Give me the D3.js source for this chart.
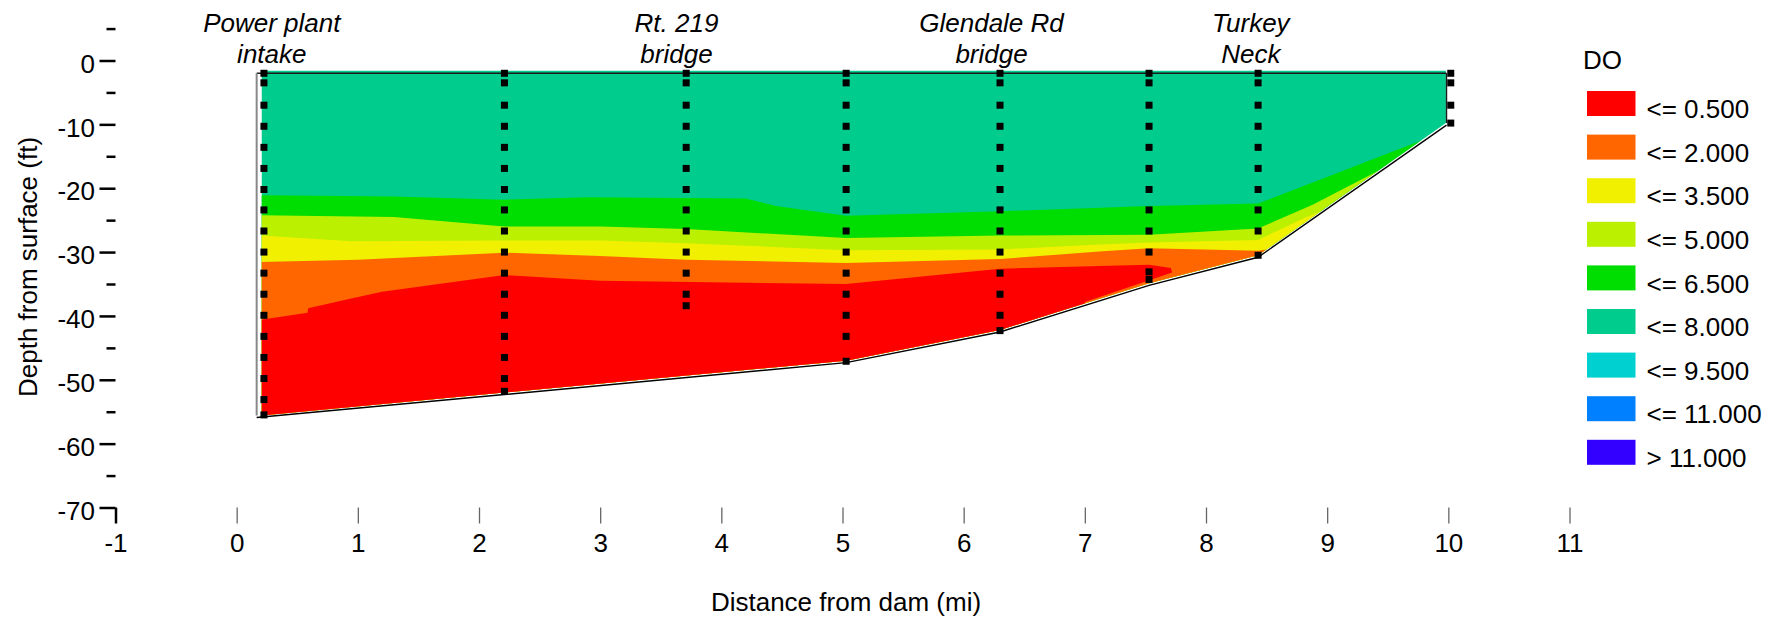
<!DOCTYPE html>
<html>
<head>
<meta charset="utf-8">
<script src="https://cdn.jsdelivr.net/npm/d3@7"></script>
<style>
  body { margin: 0; background: #fff; }
  svg { display: block; font-family: "Liberation Sans", Arial, sans-serif; }
</style>
</head>
<body>
<svg id="chart" width="1782" height="618"></svg>
<script>
// ---- data ----
const bandLabels = ["<= 0.500", "<= 2.000", "<= 3.500", "<= 5.000", "<= 6.500", "<= 8.000", "<= 9.500", "<= 11.000", "> 11.000"];
const bandColors = ["#ff0000", "#ff6600", "#f0f000", "#bbf000", "#00dd00", "#00cc8e", "#00d0d0", "#0080ff", "#3300ff"];

const xTicks = [-1, 0, 1, 2, 3, 4, 5, 6, 7, 8, 9, 10, 11];
const yMajorTicks = [0, -10, -20, -30, -40, -50, -60, -70];
const yMinorTicks = [5, -5, -15, -25, -35, -45, -55, -65];

const placeNames = [["Power plant", "intake"], ["Rt. 219", "bridge"], ["Glendale Rd", "bridge"], ["Turkey", "Neck"]];
const placeMiles = [0.29, 3.63, 6.23, 8.37];

// sampling stations (mi) and sample depths (ft)
const stationMiles = [0.225, 2.21, 3.71, 5.03, 6.30, 7.53, 8.43, 10.02];
const stationDepths = [
  [-2, -3.5, -7, -10.3, -13.6, -16.9, -20.2, -23.4, -26.7, -30, -33.3, -36.6, -39.9, -43.2, -46.5, -49.8, -53.1, -55.5],
  [-2, -3.5, -7, -10.3, -13.6, -16.9, -20.2, -23.4, -26.7, -30, -33.3, -36.6, -39.9, -43.2, -46.5, -49.8, -51.8],
  [-2, -3.5, -7, -10.3, -13.6, -16.9, -20.2, -23.4, -26.7, -30, -33.3, -36.6, -38.4],
  [-2, -3.5, -7, -10.3, -13.6, -16.9, -20.2, -23.4, -26.7, -30, -33.3, -36.6, -39.9, -43.2, -47.1],
  [-2, -3.5, -7, -10.3, -13.6, -16.9, -20.2, -23.4, -26.7, -30, -33.3, -36.6, -39.9, -42.3],
  [-2, -3.5, -7, -10.3, -13.6, -16.9, -20.2, -23.4, -26.7, -30, -33.1, -34.3],
  [-2, -3.5, -7, -10.3, -13.6, -16.9, -20.2, -23.4, -26.7, -30.5],
  [-2, -3.5, -7, -9.8]
];

// reservoir bed (mi, ft)
const bedMiles = [0.165, 2.21, 5.03, 6.30, 7.53, 8.43, 9.985];
const bedDepths = [-55.6, -52.0, -47.0, -42.2, -34.9, -30.5, -9.8];
const surfaceDepth = -2;

// upper edge of each DO band, [mi, ft]
const greenTop = [[0.1, -21.1], [1.3, -21.3], [2.21, -21.8], [2.9, -21.4], [4.2, -21.6], [4.45, -22.8], [5.03, -24.3], [6.3, -23.6], [7.53, -22.8], [8.43, -22.4], [9.82, -12.2]];
const limeTop = [[0.1, -24.2], [1.3, -24.5], [2.21, -26.0], [3.0, -26.0], [3.71, -26.4], [5.03, -27.8], [6.3, -27.4], [7.53, -27.3], [8.43, -26.3], [8.88, -22.6], [9.45, -17.0]];
const yellowTop = [[0.1, -27.3], [0.95, -28.3], [2.21, -28.2], [3.0, -28.2], [3.71, -28.6], [5.03, -29.7], [6.3, -29.6], [7.12, -28.8], [7.53, -28.5], [8.43, -28.1], [8.83, -24.5], [9.0, -23.2]];
const orangeTop = [[0.1, -31.6], [1.0, -31.2], [2.21, -30.1], [3.0, -30.6], [3.71, -31.2], [5.03, -31.7], [6.3, -31.1], [7.12, -29.9], [7.53, -29.4], [8.43, -29.8], [8.5, -29.6]];
const redTop = [[0.1, -40.9], [0.585, -39.5], [0.59, -38.8], [0.935, -37.3], [1.2, -36.2], [2.21, -33.6], [3.0, -34.5], [5.03, -35.0], [6.3, -32.6], [7.12, -32.2], [7.53, -32.0], [7.71, -32.5], [7.72, -33.2], [7.3, -35.9], [7.0, -37.8]];

// ---- chart ----
const svg = d3.select("#chart");
const fontSize = 26;

const x = d3.scaleLinear().domain([-1, 11]).range([115.5, 1569.5]);
const y = d3.scaleLinear().domain([0, -70]).range([60.5, 507.5]);

// clip = water body of the section
const clipPts = [[0.207, -1.6], [9.98, -1.6]];
for (let i = bedMiles.length - 1; i >= 0; i--) {
  clipPts.push([Math.min(Math.max(bedMiles[i], 0.207), 9.98), bedDepths[i]]);
}
svg.append("clipPath").attr("id", "water")
  .append("polygon")
  .attr("points", clipPts.map(p => x(p[0]) + "," + y(p[1])).join(" "));

const bands = svg.append("g").attr("clip-path", "url(#water)");

// DO 6.5 - 8 fills the whole body first
bands.append("rect")
  .attr("x", x(0)).attr("y", y(0))
  .attr("width", x(10.5) - x(0)).attr("height", y(-70) - y(0))
  .attr("fill", bandColors[5]);

const bandEdges = [
  { color: bandColors[4], pts: greenTop },
  { color: bandColors[3], pts: limeTop },
  { color: bandColors[2], pts: yellowTop },
  { color: bandColors[1], pts: orangeTop },
  { color: bandColors[0], pts: redTop }
];

bands.selectAll("polygon")
  .data(bandEdges)
  .enter()
  .append("polygon")
  .attr("fill", d => d.color)
  .attr("points", d => {
    const pts = d.pts.slice();
    pts.push([pts[pts.length - 1][0], -80]);
    pts.push([pts[0][0], -80]);
    return pts.map(p => x(p[0]) + "," + y(p[1])).join(" ");
  });

// section outline
const outline = svg.append("g").attr("fill", "none");
outline.append("line")
  .attr("x1", x(0.165)).attr("x2", x(9.985))
  .attr("y1", y(surfaceDepth)).attr("y2", y(surfaceDepth))
  .attr("stroke", "#1a1a1a").attr("stroke-width", 1.4);
outline.append("line")
  .attr("x1", x(0.165)).attr("x2", x(0.165))
  .attr("y1", y(surfaceDepth)).attr("y2", y(bedDepths[0]))
  .attr("stroke", "#888").attr("stroke-width", 2);
outline.append("line")
  .attr("x1", x(9.985)).attr("x2", x(9.985))
  .attr("y1", y(surfaceDepth)).attr("y2", y(bedDepths[bedDepths.length - 1]))
  .attr("stroke", "#1a1a1a").attr("stroke-width", 1.4);
outline.append("path")
  .attr("d", d3.line()(bedMiles.map((m, i) => [x(m), y(bedDepths[i])])))
  .attr("transform", "translate(0,2)")
  .attr("stroke", "#000").attr("stroke-width", 1.4);

// sample points
const markers = svg.append("g");
stationMiles.forEach((m, i) => {
  markers.selectAll(null)
    .data(stationDepths[i])
    .enter()
    .append("rect")
    .attr("x", x(m) - 3.5)
    .attr("y", d => y(d) - 3.5)
    .attr("width", 7).attr("height", 7)
    .attr("fill", "#000");
});

// place labels
const places = svg.append("g")
  .attr("font-size", fontSize).attr("font-style", "italic")
  .attr("text-anchor", "middle").attr("fill", "#000");
placeNames.forEach((lines, i) => {
  lines.forEach((t, j) => {
    places.append("text")
      .attr("x", x(placeMiles[i]))
      .attr("y", 32 + j * 31)
      .text(t);
  });
});

// y axis: major + minor ticks
const yMajor = svg.append("g")
  .attr("transform", `translate(${x(-1)},0)`)
  .call(d3.axisLeft(y).tickValues(yMajorTicks).tickSize(16).tickPadding(4.5).tickFormat(d3.format("d")));
yMajor.select(".domain").remove();
yMajor.selectAll(".tick line").attr("stroke", "#000").attr("stroke-width", 2.5);
yMajor.selectAll(".tick text")
  .attr("font-size", fontSize).attr("font-family", null)
  .attr("dy", "0.45em").text(d => d < 0 ? "-" + Math.abs(d) : d);

const yMinor = svg.append("g")
  .attr("transform", `translate(${x(-1)},0)`)
  .call(d3.axisLeft(y).tickValues(yMinorTicks).tickSize(9).tickFormat(""));
yMinor.select(".domain").remove();
yMinor.selectAll(".tick line").attr("stroke", "#000").attr("stroke-width", 2.5);

// x axis: ticks only
const xAxis = svg.append("g")
  .attr("transform", `translate(0,${y(-70)})`)
  .call(d3.axisBottom(x).tickValues(xTicks).tickSize(16).tickPadding(10).tickFormat(d => d < 0 ? "-" + Math.abs(d) : d));
xAxis.select(".domain").remove();
xAxis.selectAll(".tick line")
  .attr("stroke", d => d === -1 ? "#000" : "#666")
  .attr("stroke-width", d => d === -1 ? 2.5 : 1.3);
xAxis.selectAll(".tick text").attr("font-size", fontSize).attr("font-family", null);

// axis titles
svg.append("text")
  .attr("x", 846).attr("y", 611)
  .attr("text-anchor", "middle").attr("font-size", fontSize)
  .text("Distance from dam (mi)");
svg.append("text")
  .attr("transform", "translate(37,267) rotate(-90)")
  .attr("text-anchor", "middle").attr("font-size", fontSize)
  .text("Depth from surface (ft)");

// legend
const legend = svg.append("g").attr("font-size", fontSize);
legend.append("text").attr("x", 1583).attr("y", 69).text("DO");
const rows = legend.selectAll("g.row")
  .data(bandLabels)
  .enter()
  .append("g")
  .attr("class", "row")
  .attr("transform", (d, i) => `translate(1587,${91 + i * 43.6})`);
rows.append("rect")
  .attr("width", 48.5).attr("height", 25)
  .attr("fill", (d, i) => bandColors[i]);
rows.append("text")
  .attr("x", 59.5).attr("y", 27.3)
  .text(d => d);
</script>
</body>
</html>
